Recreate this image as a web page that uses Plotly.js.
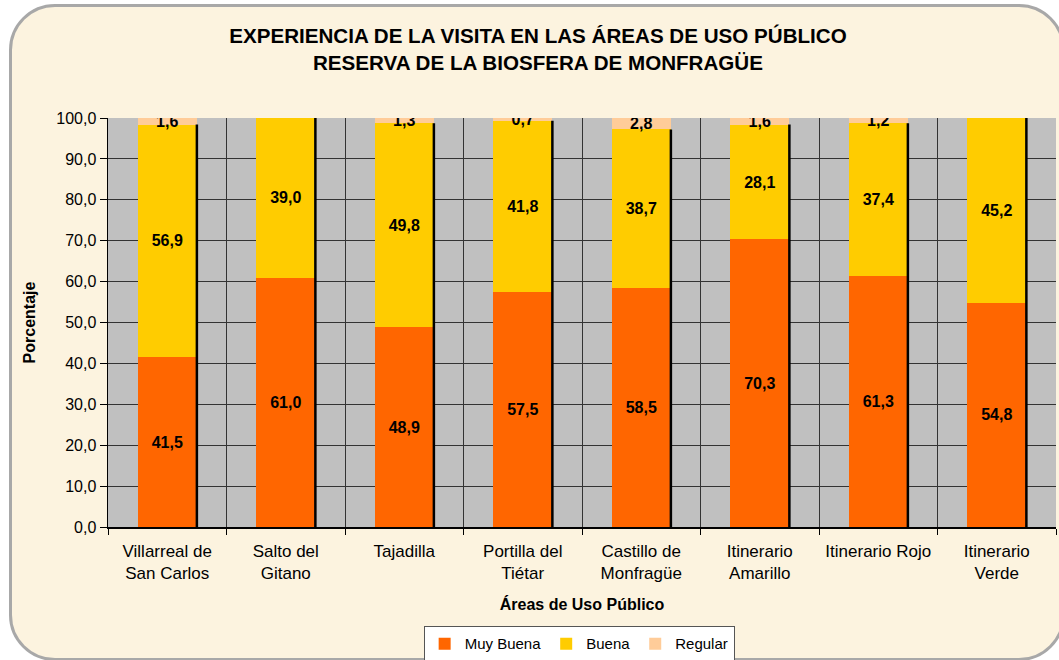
<!DOCTYPE html>
<html>
<head>
<meta charset="utf-8">
<script src="https://cdn.plot.ly/plotly-3.0.1.min.js"></script>
<style>
  html, body { margin: 0; padding: 0; background: #ffffff; overflow: hidden; }
  #frame {
    position: absolute; left: 9px; top: 4px; width: 1050px; height: 651px;
    border: 3px solid #a8a8a8; border-radius: 46px;
    background: #fcf3df;
  }
  #chart { position: absolute; left: 0; top: 0; width: 1059px; height: 660px; }
</style>
</head>
<body>
<div id="frame"></div>
<div id="chart"></div>
<script>
var areas = ['Villarreal de<br>San Carlos', 'Salto del<br>Gitano', 'Tajadilla', 'Portilla del<br>Tiétar',
             'Castillo de<br>Monfragüe', 'Itinerario<br>Amarillo', 'Itinerario Rojo', 'Itinerario<br>Verde'];
var muyBuena = [41.5, 61.0, 48.9, 57.5, 58.5, 70.3, 61.3, 54.8];
var buena = [56.9, 39.0, 49.8, 41.8, 38.7, 28.1, 37.4, 45.2];
var regular = [1.6, 0, 1.3, 0.7, 2.8, 1.6, 1.2, 0];

function labels(vals) {
  return vals.map(function(v) { return v > 0 ? v.toFixed(1).replace('.', ',') : ''; });
}

function serie(name, vals, color) {
  return {
    type: 'bar', name: name, x: areas, y: vals,
    text: labels(vals), textposition: 'inside', insidetextanchor: 'middle',
    textfont: {family: 'Liberation Sans', size: 16, color: '#000000', weight: 'bold'},
    marker: {color: color, line: {width: 0}},
    hoverinfo: 'skip'
  };
}

var data = [
  serie('Muy Buena', muyBuena, '#ff6600'),
  serie('Buena', buena, '#ffcc00'),
  serie('Regular', regular, '#ffcc99')
];

// black edge on the right side of each bar
var shapes = [];
for (var i = 0; i < areas.length; i++) {
  var total = muyBuena[i] + buena[i] + regular[i];
  shapes.push({
    type: 'line', xref: 'x', yref: 'y', layer: 'above',
    x0: i + 0.25, x1: i + 0.25, y0: 0, y1: total - regular[i],
    line: {color: '#000000', width: 2.5}
  });
}

var layout = {
  width: 1059, height: 660,
  barmode: 'stack', bargap: 0.5,
  separators: ',.',
  paper_bgcolor: 'rgba(0,0,0,0)',
  plot_bgcolor: '#c0c0c0',
  margin: {l: 108, r: 3, t: 118, b: 133, autoexpand: false},
  font: {family: 'Liberation Sans', size: 16, color: '#000000'},
  title: {
    text: 'EXPERIENCIA DE LA VISITA EN LAS ÁREAS DE USO PÚBLICO<br>RESERVA DE LA BIOSFERA DE MONFRAGÜE',
    font: {size: 20.6, weight: 'bold'},
    x: 0.508, xanchor: 'center', y: 0.935, yanchor: 'top'
  },
  uniformtext: {mode: 'show', minsize: 16},
  xaxis: {
    type: 'category', tickson: 'boundaries', ticks: 'outside', ticklen: 6, tickcolor: '#000000',
    showgrid: true, gridcolor: '#333333', gridwidth: 1,
    showline: true, linecolor: '#000000', linewidth: 1.5,
    tickfont: {size: 17}, ticklabelstandoff: 8, automargin: false,
    title: {text: 'Áreas de Uso Público', font: {size: 16, weight: 'bold'}, standoff: 17},
    fixedrange: true
  },
  yaxis: {
    range: [0, 100], dtick: 10, tickformat: '.1f',
    ticks: 'outside', ticklen: 7, tickcolor: '#000000',
    showgrid: true, gridcolor: '#333333', gridwidth: 1,
    showline: true, linecolor: '#000000', linewidth: 1.5,
    zeroline: false, automargin: false,
    tickfont: {size: 16},
    title: {text: 'Porcentaje', font: {size: 16, weight: 'bold'}, standoff: 16},
    fixedrange: true
  },
  shapes: shapes,
  showlegend: true,
  legend: {
    orientation: 'h', x: 0.497, xanchor: 'center', y: -0.243, yanchor: 'top',
    bgcolor: '#ffffff', bordercolor: '#555555', borderwidth: 1,
    font: {size: 15}, itemwidth: 30, traceorder: 'normal'
  }
};

Plotly.newPlot('chart', data, layout, {displayModeBar: false, staticPlot: true});
</script>
</body>
</html>
